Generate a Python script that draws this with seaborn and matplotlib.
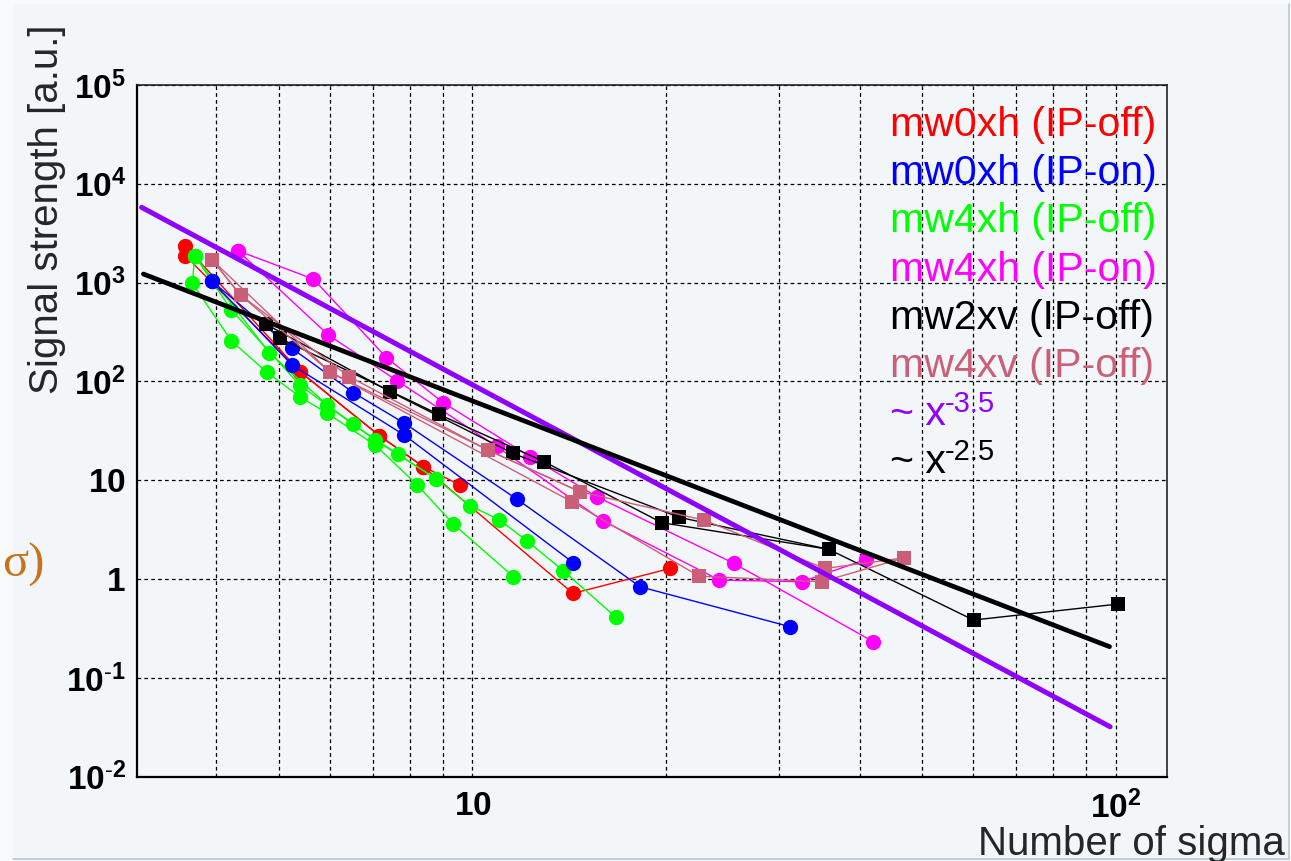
import matplotlib
matplotlib.use("Agg")
import matplotlib.pyplot as plt
import seaborn as sns
from matplotlib.ticker import FixedLocator, FixedFormatter, LogLocator, NullFormatter
from matplotlib.patches import Rectangle
from matplotlib.lines import Line2D

# ---- data (x = number of sigma, y = signal strength) ----
red_a_x = [3.58, 5.40, 7.17, 8.39, 9.57]
red_a_y = [2350, 125, 28.2, 13.7, 8.93]
red_b_x = [3.58, 5.40, 7.17, 8.39, 14.33, 20.28]
red_b_y = [1870, 125, 28.2, 13.7, 0.716, 1.28]

blue_a_x = [3.93, 5.24, 6.53, 7.84, 11.72, 18.23, 31.2]
blue_a_y = [1045, 216, 77, 37.7, 6.45, 0.835, 0.329]
blue_b_x = [3.93, 5.24, 7.84, 14.35]
blue_b_y = [1045, 147, 28.6, 1.46]

green_a_x = [3.70, 4.22, 5.39, 6.52, 7.66, 8.77, 9.92, 11.0, 12.15, 13.85, 16.72]
green_a_y = [1870, 528, 92, 36.8, 18.3, 10.4, 5.5, 4.0, 2.44, 1.21, 0.41]
green_b_x = [3.70, 4.83, 5.95, 7.06, 8.77]
green_b_y = [1870, 195, 57.7, 25.5, 10.4]
green_c_x = [3.70, 3.67, 4.22, 4.79, 5.39, 5.95, 7.06, 8.2, 9.34, 11.58]
green_c_y = [1870, 984, 257, 124, 70, 47.5, 22.7, 9.0, 3.6, 1.055]

magenta_a_x = [4.32, 5.66, 7.35, 9.01, 12.3, 15.61, 25.5, 42.0]
magenta_a_y = [2100, 1087, 174, 60.8, 17.3, 6.8, 1.44, 0.232]
magenta_b_x = [4.32, 5.97, 7.63, 10.9, 15.98, 24.2, 32.5, 40.9]
magenta_b_y = [2100, 295, 102, 22.0, 3.86, 0.977, 0.94, 1.58]

black_a_x = [4.77, 7.45, 11.56, 20.98, 35.8, 60.1, 100.7]
black_a_y = [381, 78.7, 18.7, 4.21, 2.0, 0.385, 0.558]
black_b_x = [5.02, 8.86, 12.93, 19.7, 35.8]
black_b_y = [273, 46.5, 15.4, 3.72, 2.0]

pink_a_x = [3.94, 4.36, 6.43, 10.57, 14.7, 22.9, 35.3, 46.9]
pink_a_y = [1694, 748, 112, 20.2, 7.65, 3.95, 1.28, 1.64]
pink_b_x = [3.94, 4.36, 6.01, 14.28, 22.5, 34.9, 46.9]
pink_b_y = [1694, 748, 124, 6.06, 1.07, 0.94, 1.64]
pink_c_x = [3.94, 6.01, 10.57, 14.7]
pink_c_y = [1694, 124, 20.2, 7.65]

# power-law guide lines, end points
fit35_x = [3.06, 98.0]
fit35_y = [5780, 0.032]
fit25_x = [3.08, 97.8]
fit25_y = [1222, 0.207]

legend_labels = ['mw0xh (IP-off)', 'mw0xh (IP-on)', 'mw4xh (IP-off)', 'mw4xh (IP-on)',
                 'mw2xv (IP-off)', 'mw4xv (IP-off)', '~ x', '~ x']
legend_powers = ['', '', '', '', '', '', '-3.5', '-2.5']

x_ticks = [10, 100]
x_tick_labels = [r'$\mathbf{10}$', r'$\mathbf{10^{2}}$']
y_ticks = [1e-2, 1e-1, 1, 10, 1e2, 1e3, 1e4, 1e5]
y_tick_labels = [r'$\mathbf{10^{\text{-}2}}$', r'$\mathbf{10^{\text{-}1}}$', r'$\mathbf{1}$',
                 r'$\mathbf{10}$', r'$\mathbf{10^{2}}$', r'$\mathbf{10^{3}}$',
                 r'$\mathbf{10^{4}}$', r'$\mathbf{10^{5}}$']

RED, BLUE, GREEN, MAGENTA = '#ff0000', '#0000ff', '#00ff00', '#ff00ff'
BLACK, PINK, PURPLE = '#000000', '#cc5f78', '#9000ff'
BG = '#f3f6f9'


def draw_series(ax, xs, ys, color, marker, size):
    sns.lineplot(x=xs, y=ys, ax=ax, sort=False, estimator=None, color=color,
                 linewidth=1.0, marker=marker, markersize=size,
                 markeredgewidth=0, markerfacecolor=color, legend=False)


def main():
    sns.set_style("white")
    plt.rcParams['font.family'] = ['Liberation Sans', 'DejaVu Sans']
    plt.rcParams['mathtext.fontset'] = 'custom'
    plt.rcParams['mathtext.rm'] = 'Liberation Sans'
    plt.rcParams['mathtext.bf'] = 'Liberation Sans:bold'
    plt.rcParams['mathtext.default'] = 'regular'

    W, H = 1291, 861
    fig = plt.figure(figsize=(W / 100, H / 100), dpi=100)
    fig.patch.set_facecolor('#f9fafc')
    fig.patches.append(Rectangle((13 / W, 2 / H), 1 - 15 / W, 1 - 6 / H, transform=fig.transFigure,
                                 facecolor=BG, edgecolor='none', zorder=-5))
    fig.lines.append(Line2D([13 / W, 1 - 2 / W], [2 / H, 2 / H], transform=fig.transFigure,
                            color='#b8c7d6', lw=1.2))
    fig.lines.append(Line2D([1 - 2 / W, 1 - 2 / W], [2 / H, 1 - 4 / H], transform=fig.transFigure,
                            color='#b8c7d6', lw=1.2))

    ax = fig.add_axes([137 / W, 1 - 776.7 / H, 1029.7 / W, 691.7 / H])
    ax.set_facecolor(BG)
    ax.set_xscale('log')
    ax.set_yscale('log')

    draw_series(ax, red_a_x, red_a_y, RED, 'o', 11)
    draw_series(ax, red_b_x, red_b_y, RED, 'o', 11)
    draw_series(ax, green_a_x, green_a_y, GREEN, 'o', 11)
    draw_series(ax, green_b_x, green_b_y, GREEN, 'o', 11)
    draw_series(ax, green_c_x, green_c_y, GREEN, 'o', 11)
    draw_series(ax, blue_a_x, blue_a_y, BLUE, 'o', 11)
    draw_series(ax, blue_b_x, blue_b_y, BLUE, 'o', 11)
    draw_series(ax, magenta_a_x, magenta_a_y, MAGENTA, 'o', 11)
    draw_series(ax, magenta_b_x, magenta_b_y, MAGENTA, 'o', 11)
    draw_series(ax, black_a_x, black_a_y, BLACK, 's', 10)
    draw_series(ax, black_b_x, black_b_y, BLACK, 's', 10)
    draw_series(ax, pink_a_x, pink_a_y, PINK, 's', 10)
    draw_series(ax, pink_b_x, pink_b_y, PINK, 's', 10)
    draw_series(ax, pink_c_x, pink_c_y, PINK, 's', 10)

    sns.lineplot(x=fit35_x, y=fit35_y, ax=ax, color=PURPLE, linewidth=3.6, legend=False)
    sns.lineplot(x=fit25_x, y=fit25_y, ax=ax, color=BLACK, linewidth=3.4, legend=False)

    ax.set_xlim(3.01, 120)
    ax.set_ylim(1e-2, 1e5)
    ax.set_xlabel('')
    ax.set_ylabel('')

    ax.xaxis.set_major_locator(FixedLocator(x_ticks))
    ax.xaxis.set_major_formatter(FixedFormatter(x_tick_labels))
    ax.xaxis.set_minor_locator(LogLocator(base=10, subs=range(2, 10), numticks=20))
    ax.xaxis.set_minor_formatter(NullFormatter())
    ax.yaxis.set_major_locator(FixedLocator(y_ticks))
    ax.yaxis.set_major_formatter(FixedFormatter(y_tick_labels))
    ax.yaxis.set_minor_locator(LogLocator(base=10, subs=range(2, 10), numticks=20))
    ax.yaxis.set_minor_formatter(NullFormatter())

    grid_kw = dict(color='black', linestyle=(0, (3, 2.5)), linewidth=0.9)
    ax.grid(True, which='major', axis='y', **grid_kw)
    ax.grid(True, which='both', axis='x', **grid_kw)
    ax.set_axisbelow(True)

    ax.tick_params(axis='both', which='both', direction='in', top=False, right=False,
                   width=1.2, color='black', labelcolor='black')
    ax.tick_params(axis='y', which='major', length=25, pad=8, labelsize=24)
    ax.tick_params(axis='y', which='minor', length=12)
    ax.tick_params(axis='x', which='major', length=18, pad=10, labelsize=24)
    ax.tick_params(axis='x', which='minor', length=6)

    for side in ['left', 'bottom']:
        ax.spines[side].set_linewidth(1.6)
        ax.spines[side].set_color('black')
    for side in ['right', 'top']:
        ax.spines[side].set_linewidth(1.2)
        ax.spines[side].set_color('#222222')

    # legend: coloured text only, powers drawn as raised smaller text
    legend_colors = [RED, BLUE, GREEN, MAGENTA, BLACK, PINK, PURPLE, BLACK]
    baselines = [136, 184, 232, 281, 329, 377, 425, 473]
    for label, power, color, b in zip(legend_labels, legend_powers, legend_colors, baselines):
        fig.text(890 / W, 1 - b / H, label, color=color, fontsize=29.5,
                 ha='left', va='baseline')
        if power:
            fig.text(945 / W, 1 - (b - 13) / H, power, color=color, fontsize=21,
                     ha='left', va='baseline')

    fig.text(47 / W, 1 - 25 / H, 'Signal strength [a.u.]', rotation=90,
             ha='center', va='top', fontsize=29)
    fig.text(1285 / W, 1 - 855 / H, 'Number of sigma', ha='right', va='baseline', fontsize=29)
    # fragment of slide text at the left edge, kept fully inside the canvas
    fig.text(44 / W, 1 - 565 / H, 'σ)', ha='right', va='center', fontsize=35,
             color='#c8731c', family=['Liberation Serif', 'DejaVu Serif'])

    fig.savefig('out.png', dpi=100, facecolor=fig.get_facecolor())
    plt.close(fig)


if __name__ == '__main__':
    main()
